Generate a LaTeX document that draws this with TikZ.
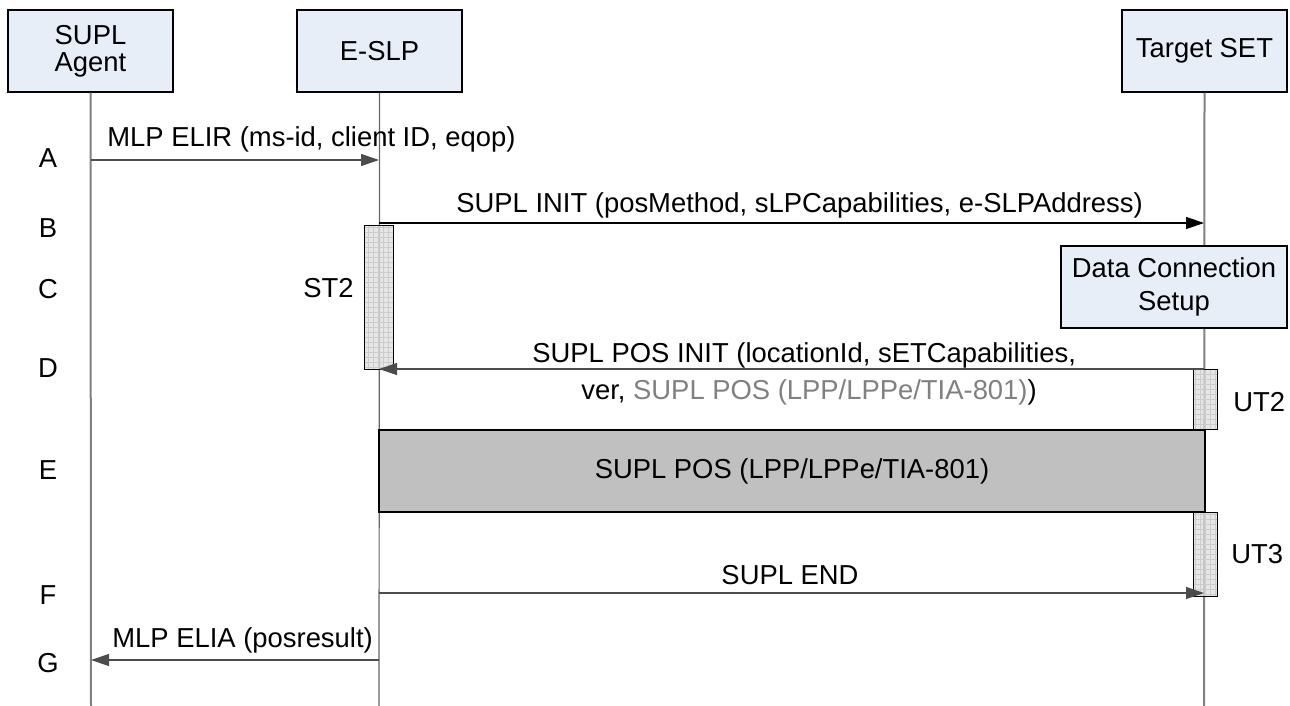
\documentclass[tikz,border=0pt]{standalone}
\usepackage{fontspec}
\setmainfont{Liberation Sans}
\usetikzlibrary{arrows.meta}
\definecolor{boxfill}{RGB}{232,238,248}
\definecolor{lifegray}{RGB}{128,128,128}
\definecolor{posgray}{RGB}{192,192,192}
\definecolor{timerfill}{RGB}{222,222,222}
\definecolor{txtgray}{RGB}{128,128,128}
\begin{document}
\begin{tikzpicture}[x=0.5pt,y=-0.5pt,
  every node/.style={font=\fontsize{13.7}{16}\selectfont, inner sep=0pt},
  actor/.style={draw=black, fill=boxfill, line width=0.6pt, minimum width=82.5pt, minimum height=41pt, align=center},
  lifeline/.style={draw=lifegray, line width=1pt},
  msg/.style={draw=black!70, line width=0.6pt, -{Triangle[length=9pt,width=6pt]}},
  timer/.style={draw=black, fill=timerfill, fill opacity=0.75, line width=0.5pt,
    path picture={\draw[gray!40,line width=0.15pt] (path picture bounding box.south west) grid[step=2.5pt] (path picture bounding box.north east);}},
  lbl/.style={anchor=base},
  lblw/.style={anchor=base west}
]
\useasboundingbox (0,0) rectangle (1290,706);

% actors
\node[actor, font=\fontsize{13.7}{13.3}\selectfont] (agent) at (90.5,51) {SUPL\\Agent};
\node[actor] (slp) at (379.5,51) {E-SLP};
\node[actor] (set) at (1204.5,51) {Target SET};

% lifeline ends
\coordinate (agentEnd) at (91,706);
\coordinate (slpEnd) at (379,706);
\coordinate (setEnd) at (1204,706);
\draw[lifeline] (agent.south) -- (agentEnd);
\draw[lifeline, draw=black!60, line width=0.6pt] (slp.south) -- (slpEnd);
\draw[lifeline] (set.south) -- (setEnd);

% step letters
\node[lbl] (lA) at (48,168) {A};
\node[lbl] (lB) at (48,237) {B};
\node[lbl] (lC) at (48,298) {C};
\node[lbl] (lD) at (48,377) {D};
\node[lbl] (lE) at (48,479) {E};
\node[lbl] (lF) at (48,604) {F};
\node[lbl] (lG) at (48,672) {G};

% Data connection setup box
\node[actor, minimum width=113pt, font=\fontsize{13.7}{16.5}\selectfont] (dcs) at (1174,287) {Data Connection\\Setup};

% SUPL POS grey box
\node[draw=black, fill=posgray, line width=0.7pt, minimum width=413pt, minimum height=41pt] (pos) at (792,471) {SUPL POS (LPP/LPPe/TIA-801)};

% timers
\node[timer, minimum width=14.5pt, minimum height=72pt] (st2) at (378.5,297) {};
\node[lblw] (st2l) at (303,297) {ST2};
\node[timer, minimum width=12pt, minimum height=30pt] (ut2) at (1205,399) {};
\node[lblw] (ut2l) at (1233,411) {UT2};
\node[timer, minimum width=12pt, minimum height=42pt] (ut3) at (1205,554) {};
\node[lblw] (ut3l) at (1231,563) {UT3};

% message end points
\coordinate (a1) at (91,160);   \coordinate (a2) at (379,160);
\coordinate (b1) at (379,223);  \coordinate (b2) at (1204,223);
\coordinate (d1) at (1204,369); \coordinate (d2) at (379,369);
\coordinate (f1) at (379,593);  \coordinate (f2) at (1204,593);
\coordinate (g1) at (379,660);  \coordinate (g2) at (91,660);

\draw[msg] (a1) -- (a2);
\node[lblw] (ta) at (107,147) {MLP ELIR (ms-id, client ID, eqop)};
\draw[msg, draw=black] (b1) -- (b2);
\node[lblw] (tb) at (456,213) {SUPL INIT (posMethod, sLPCapabilities, e-SLPAddress)};
\draw[msg] (d1) -- (d2);
\node[lblw] (td1) at (532,362) {SUPL POS INIT (locationId, sETCapabilities,};
\node[lblw] (td2) at (581,399) {ver, \textcolor{txtgray}{SUPL POS (LPP/LPPe/TIA-801)})};
\draw[msg] (f1) -- (f2);
\node[lbl] (tf) at (790,584) {SUPL END};
\draw[msg] (g1) -- (g2);
\node[lblw] (tg) at (112,647) {MLP ELIA (posresult)};
\end{tikzpicture}
\end{document}
